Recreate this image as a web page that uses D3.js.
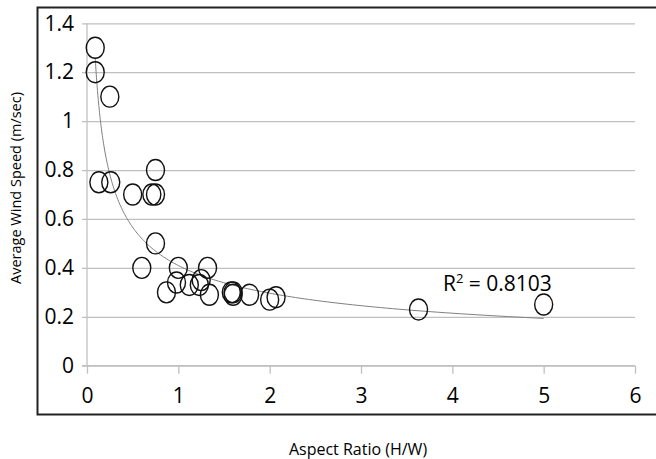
<!DOCTYPE html>
<html>
<head>
<meta charset="utf-8">
<script src="https://cdn.jsdelivr.net/npm/d3@7"></script>
<style>
  body { margin: 0; background: #fff; }
  svg { display: block; }
  .tick text { font-family: "Liberation Sans Narrow", "Open Sans", sans-serif; font-size: 21px; fill: #000; }
  .title { font-family: "Open Sans", sans-serif; font-size: 16px; fill: #000; }
</style>
</head>
<body>
<svg width="656" height="459"></svg>
<script>
// aspect ratio (H/W) and average wind speed (m/sec)
var aspectRatio = [0.09, 0.09, 0.25, 0.13, 0.26, 0.5, 0.75, 0.71, 0.75, 0.75, 0.6,
  1.0, 1.32, 0.87, 0.98, 1.12, 1.25, 1.23, 1.34, 1.58, 1.6, 1.6, 1.78, 2.0, 2.07, 3.63, 5.0]
var windSpeed = [1.3, 1.2, 1.1, 0.75, 0.75, 0.7, 0.8, 0.7, 0.7, 0.5, 0.4,
  0.4, 0.4, 0.3, 0.34, 0.33, 0.35, 0.33, 0.29, 0.3, 0.29, 0.3, 0.29, 0.27, 0.28, 0.23, 0.25]
var xTicks = [0, 1, 2, 3, 4, 5, 6]
var yTicks = [0, 0.2, 0.4, 0.6, 0.8, 1, 1.2, 1.4]
var rSquaredLabel = "0.8103"

var data = aspectRatio.map((x, i) => ({x: x, y: windSpeed[i]}))

var svg = d3.select("svg")

// outer frame
svg.append("rect")
  .attr("x", 37.5).attr("y", 7.5)
  .attr("width", 660).attr("height", 407)
  .attr("fill", "none")
  .attr("stroke", "#222")
  .attr("stroke-width", 2)

var xScale = d3.scaleLinear().domain([0, 6]).range([87, 635])
var yScale = d3.scaleLinear().domain([0, 1.4]).range([365.7, 23.3])

// horizontal gridlines + y labels
var yAx = svg.append("g")
  .attr("transform", "translate(87,0)")
  .call(d3.axisLeft(yScale).tickValues(yTicks).tickSize(-548).tickPadding(13)
    .tickFormat(d3.format("~g")))
yAx.select(".domain").remove()
yAx.selectAll(".tick line").attr("stroke", "#c0c0c0").attr("x1", -5).attr("stroke-width", 1.3)

// x axis with ticks below
var xAx = svg.append("g")
  .attr("transform", "translate(0," + yScale(0) + ")")
  .call(d3.axisBottom(xScale).tickValues(xTicks).tickSize(8).tickPadding(14)
    .tickFormat(d3.format("d")))
xAx.select(".domain").attr("stroke", "#c0c0c0").attr("stroke-width", 1.3)
  .attr("d", "M82,0H635")
xAx.selectAll(".tick line").attr("stroke", "#c0c0c0").attr("stroke-width", 1.3)

// y axis line
svg.append("line")
  .attr("x1", xScale(0)).attr("x2", xScale(0))
  .attr("y1", yScale(1.4)).attr("y2", yScale(0))
  .attr("stroke", "#c0c0c0").attr("stroke-width", 1.3)

// power trendline, least squares on log-log like the spreadsheet does
var lx = data.map(d => Math.log(d.x)), ly = data.map(d => Math.log(d.y))
var mx = d3.mean(lx), my = d3.mean(ly)
var b = d3.sum(lx, (v, i) => (v - mx) * (ly[i] - my)) / d3.sum(lx, v => (v - mx) * (v - mx))
var a = Math.exp(my - b * mx)
var xMin = d3.min(aspectRatio), xMax = d3.max(aspectRatio)
var trend = d3.range(0, 201).map(i => {
  var x = xMin * Math.pow(xMax / xMin, i / 200)
  return {x: x, y: a * Math.pow(x, b)}
})
svg.append("path")
  .datum(trend)
  .attr("fill", "none")
  .attr("stroke", "#808080")
  .attr("stroke-width", 1)
  .attr("d", d3.line().x(d => xScale(d.x)).y(d => yScale(d.y)))

// markers
svg.append("g").selectAll("ellipse")
  .data(data)
  .join("ellipse")
  .attr("cx", d => xScale(d.x))
  .attr("cy", d => yScale(d.y))
  .attr("rx", 9)
  .attr("ry", 10.5)
  .attr("fill", "none")
  .attr("stroke", "#111")
  .attr("stroke-width", 1.4)

// R squared label
var rt = svg.append("text")
  .attr("x", 443).attr("y", 291)
  .style("font-family", '"Liberation Sans Narrow", "Open Sans", sans-serif')
  .style("font-size", "21px")
rt.append("tspan").text("R")
rt.append("tspan").attr("dy", -8).style("font-size", "13px").text("2")
rt.append("tspan").attr("dy", 8).text(" = " + rSquaredLabel)

// axis titles
svg.append("text")
  .attr("class", "title")
  .attr("text-anchor", "middle")
  .attr("transform", "translate(21,188) rotate(-90)")
  .style("font-size", "14.5px")
  .text("Average Wind Speed (m/sec)")

svg.append("text")
  .attr("class", "title")
  .attr("text-anchor", "middle")
  .attr("x", 358).attr("y", 455)
  .text("Aspect Ratio (H/W)")
</script>
</body>
</html>
